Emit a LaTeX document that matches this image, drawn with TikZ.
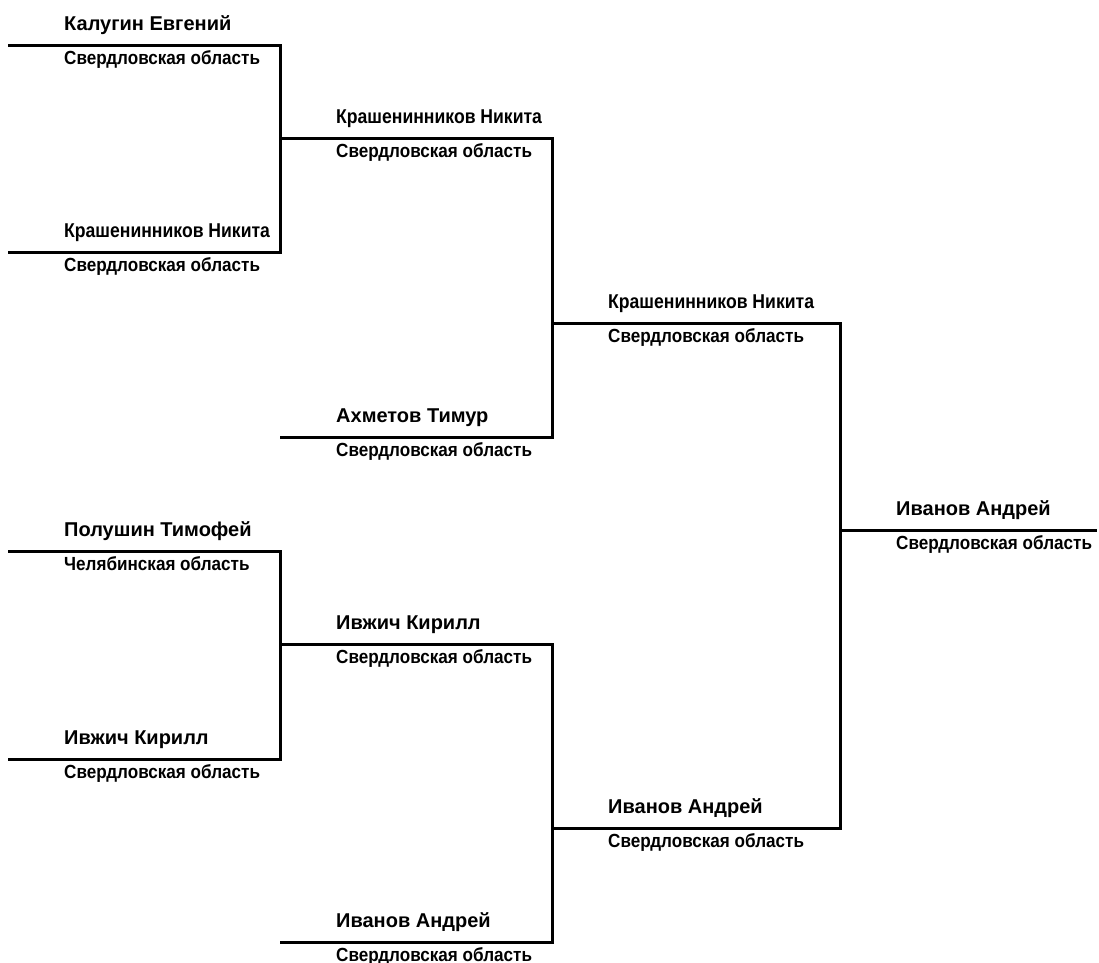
\documentclass[tikz,border=0pt]{standalone}
\usepackage{fontspec}
\setmainfont{Liberation Sans}
\usetikzlibrary{positioning}

\begin{document}
\begin{tikzpicture}[x=1pt,y=-1pt]
   \tikzstyle{every node}=[inner sep=0pt, anchor=base west]
   \tikzstyle{player}=[font=\fontsize{20}{20}\selectfont\bfseries]
   \tikzstyle{region}=[font=\fontsize{19}{19}\selectfont\bfseries, xscale=.9, transform shape]
   \tikzstyle{short}=[]
   \tikzstyle{long}=[xscale=.88, transform shape]
   \tikzstyle{bar}=[line width=3pt]

\useasboundingbox (0,0) rectangle (1099,962);

\foreach \id/\xa/\xb/\y/\fit/\who/\where in {
    k1/8/280/45/short/Калугин Евгений/Свердловская область,
    k2/8/280/252/long/Крашенинников Никита/Свердловская область,
    p1/8/280/551/short/Полушин Тимофей/Челябинская область,
    i1/8/280/759/short/Ивжич Кирилл/Свердловская область,
    k3/280/552/138/long/Крашенинников Никита/Свердловская область,
    a2/280/552/437/short/Ахметов Тимур/Свердловская область,
    i2/280/552/644/short/Ивжич Кирилл/Свердловская область,
    v2/280/552/942/short/Иванов Андрей/Свердловская область,
    k4/552/840/323/long/Крашенинников Никита/Свердловская область,
    v3/552/840/828/short/Иванов Андрей/Свердловская область,
    v4/840/1097/530/short/Иванов Андрей/Свердловская область}
{
    \coordinate (\id) at (\xa,\y);
    \coordinate (\id-end) at (\xb,\y);
    \node[player,\fit] (\id-who) at ([xshift=56pt,yshift=14.5pt]\id) {\who};
    \node[region] (\id-where) at ([xshift=56pt,yshift=-19.5pt]\id) {\where};
}

\draw[bar] (k1) -- (k1-end) -- (k2-end) -- (k2);
\draw[bar] (p1) -- (p1-end) -- (i1-end) -- (i1);
\draw[bar] (k3) -- (k3-end) -- (a2-end) -- (a2);
\draw[bar] (i2) -- (i2-end) -- (v2-end) -- (v2);
\draw[bar] (k4) -- (k4-end) -- (v3-end) -- (v3);
\draw[bar] (v4) -- (v4-end);

\end{tikzpicture}
\end{document}
